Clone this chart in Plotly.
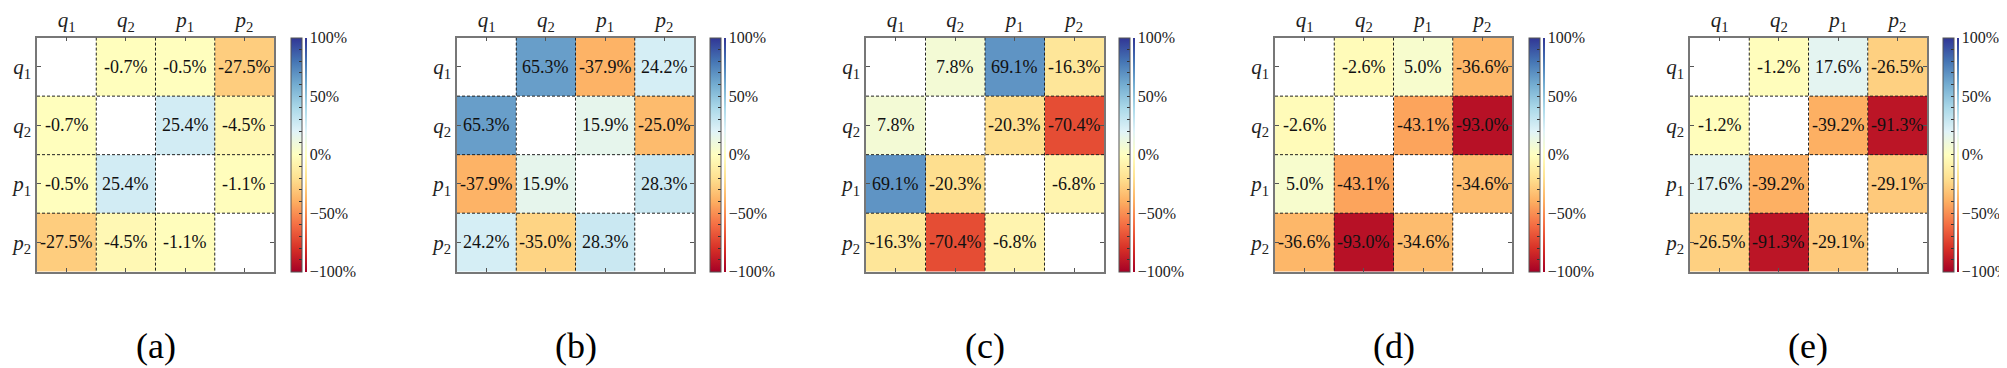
import plotly.graph_objects as go

W, H = 2007, 368
categories = ["q1", "q2", "p1", "p2"]
cat_labels = ["<i>q</i><sub>1</sub>", "<i>q</i><sub>2</sub>", "<i>p</i><sub>1</sub>", "<i>p</i><sub>2</sub>"]
panel_names = ["(a)", "(b)", "(c)", "(d)", "(e)"]

N = None
z_a = [[N, -0.7, -0.5, -27.5],
       [-0.7, N, 25.4, -4.5],
       [-0.5, 25.4, N, -1.1],
       [-27.5, -4.5, -1.1, N]]
z_b = [[N, 65.3, -37.9, 24.2],
       [65.3, N, 15.9, -35.0],
       [-37.9, 15.9, N, 28.3],
       [24.2, -25.0, 28.3, N]]
labels_b = [["", "65.3%", "-37.9%", "24.2%"],
            ["65.3%", "", "15.9%", "-25.0%"],
            ["-37.9%", "15.9%", "", "28.3%"],
            ["24.2%", "-35.0%", "28.3%", ""]]
z_c = [[N, 7.8, 69.1, -16.3],
       [7.8, N, -20.3, -70.4],
       [69.1, -20.3, N, -6.8],
       [-16.3, -70.4, -6.8, N]]
z_d = [[N, -2.6, 5.0, -36.6],
       [-2.6, N, -43.1, -93.0],
       [5.0, -43.1, N, -34.6],
       [-36.6, -93.0, -34.6, N]]
z_e = [[N, -1.2, 17.6, -26.5],
       [-1.2, N, -39.2, -91.3],
       [17.6, -39.2, N, -29.1],
       [-26.5, -91.3, -29.1, N]]

cb_min, cb_max = -100, 100
cb_major = [-100, -50, 0, 50, 100]
cb_major_text = ["\u2212100%", "\u221250%", "0%", "50%", "100%"]
cb_minor_step = 10

def fmt(z):
    return [["" if v is None else f"{v:.1f}%" for v in row] for row in z]

panels = [(z_a, fmt(z_a)), (z_b, labels_b), (z_c, fmt(z_c)), (z_d, fmt(z_d)), (z_e, fmt(z_e))]

# pixel layout of each panel: heatmap left/right, colorbar left
hm_x = [(29, 266), (449, 686), (858, 1096), (1267, 1504), (1682, 1919)]
cb_x = [283, 702, 1111, 1521, 1935]
top_px, bot_px = 24, 262

rdylbu = ["#a50026", "#d73027", "#f46d43", "#fdae61", "#fee090", "#ffffbf",
          "#e0f3f8", "#abd9e9", "#74add1", "#4575b4", "#313695"]
cscale = [[i / (len(rdylbu) - 1), c] for i, c in enumerate(rdylbu)]

FONT = "Liberation Serif"
fig = go.Figure()
n = len(categories)
idx = list(range(n))

for k, (z, txt) in enumerate(panels):
    xa = "x" if k == 0 else f"x{k+1}"
    ya = "y" if k == 0 else f"y{k+1}"
    cb_v = dict(xanchor="left", xpad=0, ypad=0,
                y=1 - (top_px + bot_px) / 2 / H, yanchor="middle",
                len=(bot_px - top_px) / H, lenmode="fraction")
    # main heatmap; its thin colorbar just to the right of the visible one carries the labels
    fig.add_trace(go.Heatmap(
        z=z, x=idx, y=idx,
        colorscale=cscale, zmin=cb_min, zmax=cb_max, xgap=0, ygap=0,
        hoverongaps=False, xaxis=xa, yaxis=ya,
        colorbar=dict(**cb_v, x=(cb_x[k] + 14) / W, thickness=1, outlinewidth=0,
                      bgcolor="rgba(0,0,0,0)",
                      tickvals=cb_major, ticktext=cb_major_text, ticks="",
                      tickfont=dict(family=FONT, size=16, color="#222")),
    ))
    # visible colour bar with minor ticks
    fig.add_trace(go.Scatter(
        x=[None], y=[None], mode="markers", xaxis=xa, yaxis=ya, hoverinfo="skip",
        marker=dict(color=[0], colorscale=cscale, cmin=cb_min, cmax=cb_max, showscale=True,
                    colorbar=dict(**cb_v, x=cb_x[k] / W, thickness=11, outlinewidth=1,
                                  outlinecolor="#555", tickmode="linear", tick0=cb_min,
                                  dtick=cb_minor_step, ticks="inside", ticklen=3,
                                  tickcolor="#333", showticklabels=False)),
    ))
    for r in range(n):
        for c in range(n):
            if txt[r][c]:
                fig.add_annotation(x=c, y=r, xref=xa, yref=ya, text=txt[r][c],
                                   showarrow=False,
                                   font=dict(family=FONT, size=18, color="#111"))
    dom_x = [hm_x[k][0] / W, hm_x[k][1] / W]
    dom_y = [1 - bot_px / H, 1 - top_px / H]
    axcommon = dict(showgrid=False, zeroline=False, showline=True, linecolor="#777",
                    linewidth=1.5, mirror="ticks", ticks="inside", ticklen=4,
                    tickcolor="#555", tickvals=idx, ticktext=cat_labels,
                    tickfont=dict(family=FONT, size=21, color="#222"))
    fig.update_layout(**{
        ("xaxis" if k == 0 else f"xaxis{k+1}"): dict(domain=dom_x, side="top",
            range=[-0.5, n - 0.5], anchor=ya, **axcommon),
        ("yaxis" if k == 0 else f"yaxis{k+1}"): dict(domain=dom_y, autorange=False,
            range=[n - 0.5, -0.5], anchor=xa, **axcommon),
    })
    # dashed cell boundaries
    for b in range(n - 1):
        fig.add_shape(type="line", xref=xa, yref=ya, x0=b + 0.5, x1=b + 0.5,
                      y0=-0.5, y1=n - 0.5, line=dict(color="#222", width=1, dash="3px,2px"))
        fig.add_shape(type="line", xref=xa, yref=ya, y0=b + 0.5, y1=b + 0.5,
                      x0=-0.5, x1=n - 0.5, line=dict(color="#222", width=1, dash="3px,2px"))
    fig.add_annotation(text=panel_names[k], xref="paper", yref="paper",
                       x=(dom_x[0] + dom_x[1]) / 2, y=1 - 337 / H, showarrow=False,
                       xanchor="center", yanchor="middle",
                       font=dict(family=FONT, size=36, color="black"))

fig.update_layout(width=W, height=H, margin=dict(l=0, r=0, t=0, b=0),
                  font=dict(family=FONT),
                  paper_bgcolor="white", plot_bgcolor="white", showlegend=False)
fig.write_html("out.html")
